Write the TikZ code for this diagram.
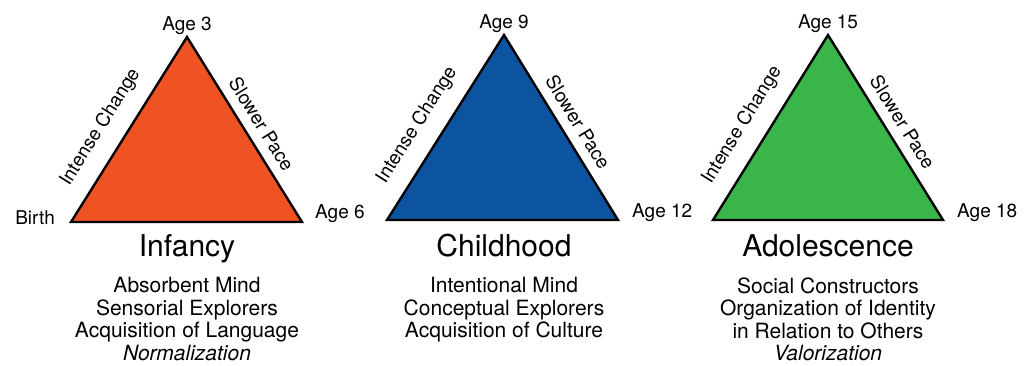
\documentclass[tikz,border=0pt]{standalone}
\usepackage{fontspec}
\setmainfont{TeX Gyre Heros}
\usetikzlibrary{positioning, calc}
\definecolor{infancyfill}{RGB}{239,83,35}
\definecolor{childfill}{RGB}{12,84,160}
\definecolor{adolfill}{RGB}{58,181,74}

\begin{document}
\begin{tikzpicture}[x=1pt, y=1pt,
  tri/.style={draw=black, line width=2.4pt, line join=miter},
  age/.style={inner sep=0pt, font=\fontsize{19}{22}\selectfont},
  side/.style={sloped, inner sep=0pt, font=\fontsize{19}{22}\selectfont},
  stage/.style={inner sep=0pt, text depth=0pt, font=\fontsize{30}{34}\selectfont},
  traits/.style={inner sep=0pt, align=center, font=\fontsize{21}{22.5}\selectfont}]
\useasboundingbox (0,0) rectangle (1024,365);

% corners of the three periods
\coordinate (infL) at (71,143);
\coordinate (infT) at (187,328);
\coordinate (infR) at (302,143);
\coordinate (chiL) at (387,145);
\coordinate (chiT) at (504,330);
\coordinate (chiR) at (618,145);
\coordinate (adoL) at (713,145);
\coordinate (adoT) at (828,330);
\coordinate (adoR) at (943,145);

\draw[tri, fill=infancyfill] (infL) -- (infT) -- (infR) -- cycle;
\draw[tri, fill=childfill] (chiL) -- (chiT) -- (chiR) -- cycle;
\draw[tri, fill=adolfill] (adoL) -- (adoT) -- (adoR) -- cycle;

% ages at the corners
\node[age, anchor=base east] (birth) at ($(infL)+(-16,-2)$) {Birth};
\node[age, above=2pt of infT] (age3) {Age 3};
\node[age, anchor=base west] (age6) at ($(infR)+(13,4)$) {Age 6};
\node[age, above=2pt of chiT] (age9) {Age 9};
\node[age, anchor=base west] (age12) at ($(chiR)+(14,3)$) {Age 12};
\node[age, above=2pt of adoT] (age15) {Age 15};
\node[age, anchor=base west] (age18) at ($(adoR)+(14,3)$) {Age 18};

% labels along the sides
\path (infL) -- (infT) node[side, pos=0.44, above=16pt] (infUp) {Intense Change};
\path (infT) -- (infR) node[side, pos=0.52, above=10pt] (infDown) {Slower Pace};
\path (chiL) -- (chiT) node[side, pos=0.44, above=16pt] (chiUp) {Intense Change};
\path (chiT) -- (chiR) node[side, pos=0.52, above=10pt] (chiDown) {Slower Pace};
\path (adoL) -- (adoT) node[side, pos=0.44, above=16pt] (adoUp) {Intense Change};
\path (adoT) -- (adoR) node[side, pos=0.52, above=10pt] (adoDown) {Slower Pace};

% names and traits of each period
\node[stage, anchor=base] (infancy) at (187,109) {Infancy};
\node[traits, below=21pt of infancy] (infTraits)
  {Absorbent Mind\\Sensorial Explorers\\Acquisition of Language\\\itshape Normalization};
\node[stage, anchor=base] (childhood) at (504,109) {Childhood};
\node[traits, below=21pt of childhood] (chiTraits)
  {Intentional Mind\\Conceptual Explorers\\Acquisition of Culture};
\node[stage, anchor=base] (adolescence) at (828,109) {Adolescence};
\node[traits, below=21pt of adolescence] (adoTraits)
  {Social Constructors\\Organization of Identity\\in Relation to Others\\\itshape Valorization};
\end{tikzpicture}
\end{document}
